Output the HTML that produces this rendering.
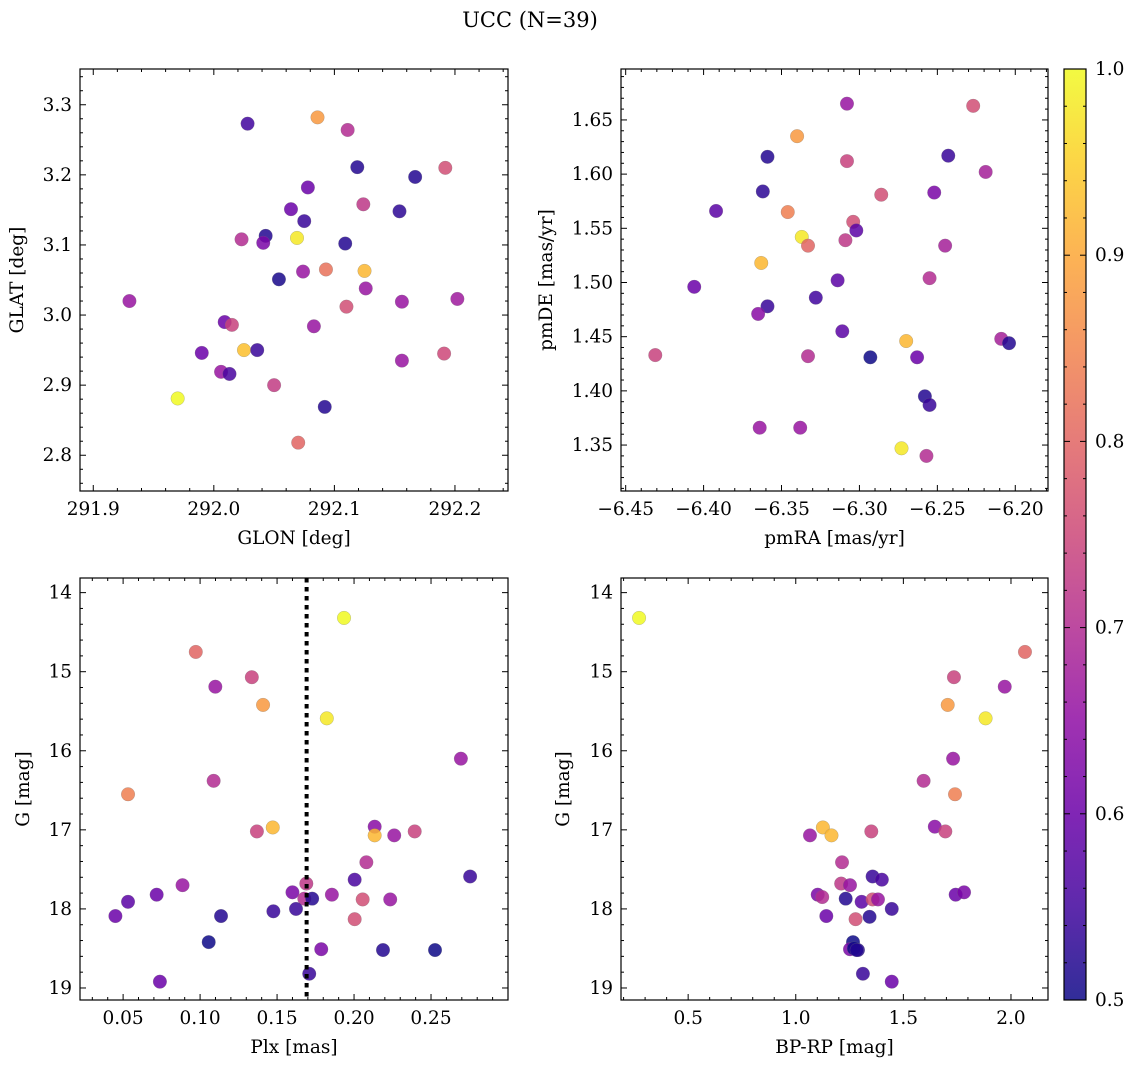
<!DOCTYPE html>
<html><head><meta charset="utf-8">
<style>
html,body{margin:0;padding:0;background:#fff;}
svg{display:block;font-family:"DejaVu Serif","Liberation Serif",serif;}
</style></head>
<body>
<svg id="fig" width="1136" height="1068" viewBox="0 0 1136 1068" xmlns="http://www.w3.org/2000/svg">
<rect width="1136" height="1068" fill="#fff"/>
<text x="530" y="27" font-size="21" text-anchor="middle">UCC (N=39)</text>
</svg>
<script>
// ---- Panel 1: GLON vs GLAT ----
const glon = [292.028,292.086,292.111,292.119,292.167,292.192,292.078,292.124,292.154,292.064,292.075,292.043,292.023,292.041,292.069,292.109,292.074,292.093,292.125,292.054,292.126,291.930,292.156,292.202,292.110,292.009,292.015,292.083,291.990,292.025,292.036,292.156,292.191,292.006,292.013,292.050,291.970,292.092,292.070];
const glat = [3.273,3.282,3.264,3.211,3.197,3.210,3.182,3.158,3.148,3.151,3.134,3.113,3.108,3.103,3.110,3.102,3.062,3.065,3.063,3.051,3.038,3.020,3.019,3.023,3.012,2.990,2.986,2.984,2.946,2.950,2.950,2.935,2.945,2.919,2.916,2.900,2.881,2.869,2.818];
const prob1 = [0.55,0.88,0.70,0.52,0.52,0.76,0.60,0.72,0.53,0.60,0.54,0.52,0.70,0.62,0.98,0.52,0.66,0.82,0.92,0.51,0.66,0.66,0.66,0.67,0.76,0.60,0.74,0.66,0.60,0.93,0.54,0.66,0.75,0.66,0.56,0.73,1.00,0.52,0.80];
// ---- Panel 2: pmRA vs pmDE ----
const pmra = [-6.308,-6.227,-6.340,-6.359,-6.308,-6.243,-6.219,-6.362,-6.286,-6.252,-6.392,-6.346,-6.304,-6.302,-6.337,-6.333,-6.309,-6.245,-6.363,-6.255,-6.314,-6.406,-6.328,-6.359,-6.365,-6.311,-6.270,-6.209,-6.204,-6.431,-6.333,-6.293,-6.263,-6.258,-6.255,-6.364,-6.338,-6.273,-6.257];
const pmde = [1.665,1.663,1.635,1.616,1.612,1.617,1.602,1.584,1.581,1.583,1.566,1.565,1.556,1.548,1.542,1.534,1.539,1.534,1.518,1.504,1.502,1.496,1.486,1.478,1.471,1.455,1.446,1.448,1.444,1.433,1.432,1.431,1.431,1.395,1.387,1.366,1.366,1.347,1.340];
const prob2 = [0.66,0.76,0.88,0.52,0.74,0.54,0.68,0.53,0.76,0.62,0.58,0.84,0.76,0.58,0.98,0.80,0.72,0.68,0.92,0.70,0.58,0.60,0.55,0.54,0.64,0.58,0.92,0.68,0.52,0.74,0.70,0.50,0.60,0.52,0.54,0.66,0.66,0.98,0.70];
// ---- Panel 3: Plx vs G ----
const plx = [0.1935,0.0972,0.1336,0.1099,0.1409,0.1823,0.2694,0.1088,0.0532,0.1472,0.1369,0.2134,0.2134,0.2261,0.2394,0.2080,0.2754,0.2004,0.1690,0.0886,0.0718,0.1600,0.1677,0.1728,0.1856,0.2056,0.2235,0.0532,0.1623,0.1476,0.0450,0.1136,0.2004,0.1056,0.1787,0.2188,0.2526,0.1709,0.0739];
const gmag3 = [14.32,14.75,15.07,15.19,15.42,15.59,16.10,16.38,16.55,16.97,17.02,16.96,17.07,17.07,17.02,17.41,17.59,17.63,17.68,17.70,17.82,17.79,17.87,17.87,17.82,17.88,17.88,17.91,18.00,18.03,18.09,18.09,18.13,18.42,18.51,18.52,18.52,18.82,18.92];
const prob3 = [1.00,0.80,0.74,0.66,0.88,0.98,0.66,0.70,0.84,0.92,0.74,0.64,0.92,0.66,0.74,0.70,0.54,0.56,0.72,0.66,0.60,0.62,0.70,0.52,0.66,0.76,0.66,0.58,0.54,0.54,0.60,0.52,0.76,0.50,0.62,0.52,0.50,0.54,0.60];
const plxLine = [0.1692];
// ---- Panel 4: BP-RP vs G ----
const bprp = [0.272,2.065,1.735,1.971,1.706,1.882,1.731,1.594,1.740,1.126,1.351,1.646,1.166,1.066,1.695,1.215,1.357,1.400,1.211,1.252,1.743,1.102,1.123,1.306,1.357,1.382,1.232,1.782,1.446,1.142,1.343,1.278,1.266,1.252,1.289,1.312,1.446,1.270,1.283];
const gmag4 = [14.32,14.75,15.07,15.19,15.42,15.59,16.10,16.38,16.55,16.97,17.02,16.96,17.07,17.07,17.02,17.41,17.59,17.63,17.68,17.70,17.82,17.82,17.85,17.91,17.88,17.88,17.87,17.79,18.00,18.09,18.10,18.13,18.42,18.51,18.52,18.82,18.92,18.50,18.52];
const prob4 = [1.00,0.80,0.74,0.66,0.88,0.98,0.66,0.70,0.84,0.92,0.74,0.64,0.92,0.66,0.74,0.70,0.54,0.56,0.72,0.66,0.60,0.62,0.70,0.58,0.76,0.66,0.52,0.62,0.54,0.60,0.52,0.76,0.50,0.62,0.52,0.54,0.60,0.50,0.52];
// ---- tick labels ----
const ticks1x = [291.9,292.0,292.1,292.2], ticks1y = [2.8,2.9,3.0,3.1,3.2,3.3];
const ticks2x = [-6.45,-6.40,-6.35,-6.30,-6.25,-6.20], ticks2y = [1.35,1.40,1.45,1.50,1.55,1.60,1.65];
const ticks3x = [0.05,0.10,0.15,0.20,0.25], ticksGy = [14,15,16,17,18,19];
const ticks4x = [0.5,1.0,1.5,2.0];
const cbarTicks = [0.5,0.6,0.7,0.8,0.9,1.0];

const NS="http://www.w3.org/2000/svg";
const svg=document.getElementById('fig');
const TF=18.5, LF=18.5;
function mk(tag,attrs,parent){const e=document.createElementNS(NS,tag);for(const k in attrs)e.setAttribute(k,attrs[k]);(parent||svg).appendChild(e);return e;}
const plasma=[[13,8,135],[65,4,157],[106,0,168],[143,13,164],[177,42,144],[204,71,120],[225,100,98],[242,132,75],[252,166,54],[252,206,37],[240,249,33]];
function cmap(v){let t=Math.max(0,Math.min(1,(v-0.5)/0.5))*10;const i=Math.min(9,Math.floor(t)),f=t-i;const a=plasma[i],b=plasma[i+1];return 'rgb('+a.map((c,k)=>Math.round(c+(b[k]-c)*f)).join(',')+')';}
function fmt(v,d){return (v<0?'\u2212':'')+Math.abs(v).toFixed(d);}

function panel(o){
  const g=mk('g',{});
  
  
  const sx=v=>o.x0+(v-o.xd[0])/(o.xd[1]-o.xd[0])*(o.x1-o.x0);
  const sy=v=>o.y0+(v-o.yd[1])/(o.yd[0]-o.yd[1])*(o.y1-o.y0);
  const syInv=v=>o.y0+(v-o.yd[0])/(o.yd[1]-o.yd[0])*(o.y1-o.y0);
  const Y=o.invert?syInv:sy;
  const pg=mk('g',{},g);
  
  
  o.xs.forEach((xv,i)=>{
    const c=mk('circle',{cx:sx(xv),cy:Y(o.ys[i]),r:6.8,fill:cmap(o.cs[i]),'fill-opacity':0.85,stroke:'#777','stroke-width':0.4,'stroke-opacity':0.6},pg);
    
    
  });
  if(o.vline){o.vline.forEach(v=>{const l=mk('line',{x1:sx(v),x2:sx(v),y1:o.y0,y2:o.y1,stroke:'#000','stroke-width':4,'stroke-dasharray':'4.5 4.5'},g);
    
    });}
  const fr=mk('rect',{x:o.x0,y:o.y0,width:o.x1-o.x0,height:o.y1-o.y0,fill:'none',stroke:'#000','stroke-width':1.2},g);
  
  
  const tg=mk('g',{stroke:'#000','stroke-width':1},g);
  const eps=1e-9;
  for(let v=Math.ceil((o.xd[0])/o.xmin-eps)*o.xmin;v<=o.xd[1]+eps;v+=o.xmin){
    const isMaj=Math.abs(v/o.xmaj-Math.round(v/o.xmaj))<1e-6;const L=isMaj?6:3;const x=sx(v);
    mk('line',{x1:x,x2:x,y1:o.y1,y2:o.y1-L},tg);mk('line',{x1:x,x2:x,y1:o.y0,y2:o.y0+L},tg);}
  const ylo=Math.min(o.yd[0],o.yd[1]),yhi=Math.max(o.yd[0],o.yd[1]);
  for(let v=Math.ceil(ylo/o.ymin-eps)*o.ymin;v<=yhi+eps;v+=o.ymin){
    const isMaj=Math.abs(v/o.ymaj-Math.round(v/o.ymaj))<1e-6;const L=isMaj?6:3;const y=Y(v);
    mk('line',{x1:o.x0,x2:o.x0+L,y1:y,y2:y},tg);mk('line',{x1:o.x1,x2:o.x1-L,y1:y,y2:y},tg);}
  o.xt.forEach(v=>{const t=mk('text',{x:sx(v),y:o.y1+24,'font-size':TF,'text-anchor':'middle'},g);t.textContent=fmt(v,o.xdp);
    });
  o.yt.forEach(v=>{const t=mk('text',{x:o.x0-8,y:Y(v)+6,'font-size':TF,'text-anchor':'end'},g);t.textContent=fmt(v,o.ydp);
    });
  const xl=mk('text',{x:(o.x0+o.x1)/2,y:o.y1+53,'font-size':LF,'text-anchor':'middle'},g);xl.textContent=o.xlab;
  
  const yx=o.ylx,yy=(o.y0+o.y1)/2;
  const yl=mk('text',{x:yx,y:yy,'font-size':LF,'text-anchor':'middle',transform:'rotate(-90 '+yx+' '+yy+')'},g);yl.textContent=o.ylab;
  
}

panel({name:'glon-glat-panel',x0:80,x1:508,y0:69,y1:491,xd:[291.889,292.244],yd:[2.749,3.351],xs:glon,ys:glat,cs:prob1,
  xmaj:0.1,xmin:0.02,ymaj:0.1,ymin:0.02,xt:ticks1x,yt:ticks1y,xdp:1,ydp:1,xlab:'GLON [deg]',ylab:'GLAT [deg]',ylx:23});
panel({name:'pmra-pmde-panel',x0:621,x1:1048,y0:69,y1:491,xd:[-6.453,-6.179],yd:[1.3076,1.697],xs:pmra,ys:pmde,cs:prob2,
  xmaj:0.05,xmin:0.01,ymaj:0.05,ymin:0.01,xt:ticks2x,yt:ticks2y,xdp:2,ydp:2,xlab:'pmRA [mas/yr]',ylab:'pmDE [mas/yr]',ylx:552});
panel({name:'plx-g-panel',x0:80,x1:508,y0:578,y1:1000,xd:[0.022,0.300],yd:[13.815,19.152],invert:true,xs:plx,ys:gmag3,cs:prob3,vline:plxLine,
  xmaj:0.05,xmin:0.01,ymaj:1,ymin:0.2,xt:ticks3x,yt:ticksGy,xdp:2,ydp:0,xlab:'Plx [mas]',ylab:'G [mag]',ylx:29});
panel({name:'bprp-g-panel',x0:621,x1:1048,y0:578,y1:1000,xd:[0.188,2.172],yd:[13.815,19.152],invert:true,xs:bprp,ys:gmag4,cs:prob4,
  xmaj:0.5,xmin:0.1,ymaj:1,ymin:0.2,xt:ticks4x,yt:ticksGy,xdp:1,ydp:0,xlab:'BP-RP [mag]',ylab:'G [mag]',ylx:569});

(function(){
  const g=mk('g',{});
  
  
  const x0=1064,x1=1086,y0=69,y1=1000;
  const defs=mk('defs',{},g);const lg=mk('linearGradient',{id:'pl',x1:0,y1:1,x2:0,y2:0},defs);
  plasma.forEach((c,i)=>mk('stop',{offset:i/10,'stop-color':'rgb('+c.join(',')+')','stop-opacity':0.85},lg));
  mk('rect',{x:x0,y:y0,width:x1-x0,height:y1-y0,fill:'url(#pl)',stroke:'#000','stroke-width':1.2},g);
  const cy=v=>y1-(v-0.5)/0.5*(y1-y0);
  for(let k=0;k<=25;k++){const v=0.5+k*0.02;const maj=k%5===0;const y=cy(v);
    mk('line',{x1:x1,x2:x1-(maj?6:3),y1:y,y2:y,stroke:'#000','stroke-width':1},g);
    mk('line',{x1:x0,x2:x0+(maj?6:3),y1:y,y2:y,stroke:'#000','stroke-width':1},g);}
  cbarTicks.forEach(v=>{const t=mk('text',{x:x1+9,y:cy(v)+6,'font-size':TF},g);t.textContent=v.toFixed(1);
    });
})();
</script>
</body></html>
